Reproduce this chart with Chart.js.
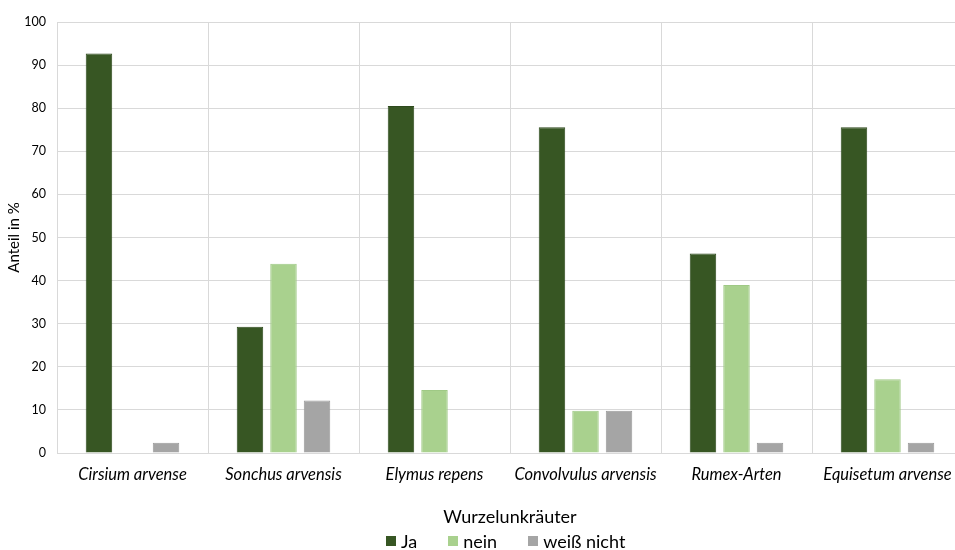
<!DOCTYPE html>
<html>
<head>
<meta charset="utf-8">
<script src="https://cdn.jsdelivr.net/npm/chart.js@4/dist/chart.umd.min.js"></script>
<style>
  html, body { margin: 0; padding: 0; background: #fff; overflow: hidden; }
  #wrap { position: relative; width: 955px; height: 550px; overflow: hidden; }
  #legend { position: absolute; left: 386px; top: 530px; height: 22px; display: flex; align-items: center;
            font-family: Lato, 'Open Sans', sans-serif; font-size: 18px; color: #000; white-space: nowrap; }
  #legend .item { display: flex; align-items: center; margin-right: 31px; }
  #legend .box { width: 10px; height: 10px; margin-right: 5px; }
</style>
</head>
<body>
<div id="wrap">
  <canvas id="c" width="970" height="550"></canvas>
  <div id="legend"></div>
</div>
<script>
const categories = ['Cirsium arvense', 'Sonchus arvensis', 'Elymus repens', 'Convolvulus arvensis', 'Rumex-Arten', 'Equisetum arvense'];
const ja = [92.7, 29.3, 80.5, 75.6, 46.3, 75.6];
const nein = [0, 43.9, 14.6, 9.8, 39.0, 17.1];
const weissNicht = [2.4, 12.2, 0, 9.8, 2.4, 2.4];

const font = "Lato, 'Open Sans', sans-serif";

// legend as html, built from the chart's own items
const htmlLegend = {
    id: 'htmlLegend',
    afterUpdate(chart) {
        const el = document.getElementById('legend');
        el.innerHTML = '';
        chart.options.plugins.legend.labels.generateLabels(chart).forEach(item => {
            const li = document.createElement('div');
            li.className = 'item';
            const box = document.createElement('span');
            box.className = 'box';
            box.style.background = item.fillStyle;
            const txt = document.createElement('span');
            txt.textContent = item.text;
            li.appendChild(box);
            li.appendChild(txt);
            el.appendChild(li);
        });
    }
};

new Chart(document.getElementById('c'), {
    type: 'bar',
    data: {
        labels: categories,
        datasets: [
            { label: 'Ja', data: ja, backgroundColor: '#375623', borderColor: '#2e4a1d', borderWidth: 1 },
            { label: 'nein', data: nein, backgroundColor: '#a9d18e', borderColor: '#9fc985', borderWidth: 1 },
            { label: 'weiß nicht', data: weissNicht, backgroundColor: '#a5a5a5', borderColor: '#9a9a9a', borderWidth: 1 }
        ]
    },
    options: {
        responsive: false,
        animation: false,
        categoryPercentage: 0.666,
        barPercentage: 0.79,
        layout: { padding: { top: 22, left: 0, right: 7, bottom: 0 } },
        plugins: {
            tooltip: { enabled: false },
            legend: { display: false }
        },
        scales: {
            x: {
                grid: { color: '#d9d9d9', offset: true, drawTicks: false },
                border: { color: '#d9d9d9' },
                ticks: { color: '#000', padding: 12, maxRotation: 0, autoSkip: false, font: { family: font, size: 16.5, style: 'italic' } },
                title: { display: true, text: 'Wurzelunkräuter', color: '#000', padding: { top: 0, bottom: 22 }, font: { family: font, size: 18 } },
                afterFit: (scale) => { scale.height = 97; }
            },
            y: {
                min: 0,
                max: 100,
                ticks: { stepSize: 10, color: '#000', padding: 11, font: { family: font, size: 12.5 } },
                grid: { color: '#d9d9d9', drawTicks: false },
                border: { display: false },
                title: { display: true, text: 'Anteil in %', color: '#000', padding: { top: 5, bottom: 4 }, font: { family: font, size: 15 } },
                afterFit: (scale) => { scale.width = 57; }
            }
        }
    },
    plugins: [htmlLegend]
});
</script>
</body>
</html>
